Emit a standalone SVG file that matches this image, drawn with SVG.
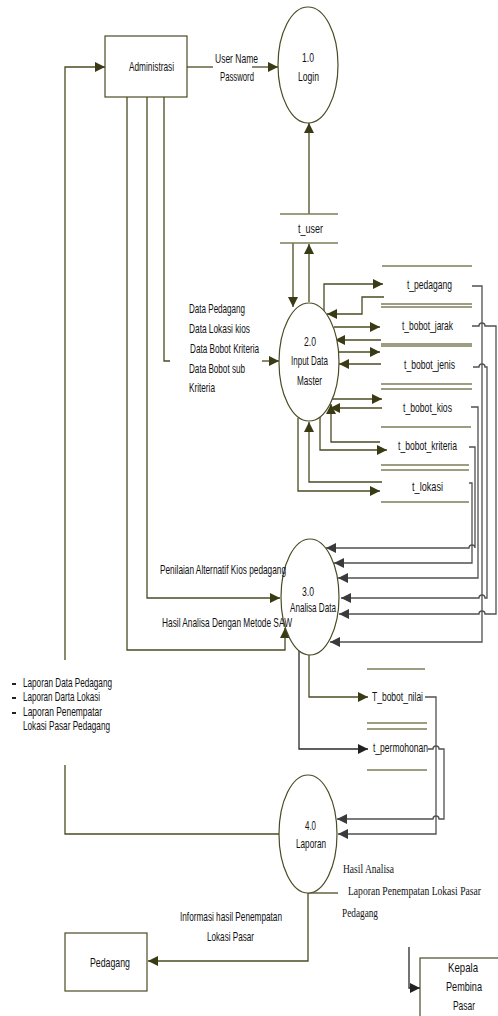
<svg xmlns="http://www.w3.org/2000/svg" width="498" height="1016" viewBox="0 0 498 1016">
<style>
text{font-family:"Liberation Sans Narrow","Liberation Sans",Arial,sans-serif;font-size:13px;fill:#111}
text.s{font-family:"Liberation Serif","Times New Roman",serif;font-size:12px}
.box{fill:#fff;stroke:#4b4b23;stroke-width:1.2}
.proc{fill:#fff;stroke:#4b4b23;stroke-width:1.2}
.st{stroke:#7d7d5a;stroke-width:1.5;fill:none}
.o{fill:none;stroke:#4b4b23;stroke-width:1.3}
.g{fill:none;stroke:#505050;stroke-width:1.3}
.k{fill:none;stroke:#2a2a2a;stroke-width:1.3}
</style>
<defs>
<marker id="ao" markerWidth="10" markerHeight="10" refX="10" refY="5" orient="auto" markerUnits="userSpaceOnUse"><path d="M0,0 L10,5 L0,10 z" fill="#3a3a14"/></marker>
<marker id="ag" markerWidth="10" markerHeight="10" refX="10" refY="5" orient="auto" markerUnits="userSpaceOnUse"><path d="M0,0 L10,5 L0,10 z" fill="#3a3a3a"/></marker>
<marker id="ak" markerWidth="10" markerHeight="10" refX="10" refY="5" orient="auto" markerUnits="userSpaceOnUse"><path d="M0,0 L10,5 L0,10 z" fill="#222"/></marker>
</defs>
<rect width="498" height="1016" fill="#fff"/>

<g id="connectors">
<path class="o" d="M187,67 H213"/>
<path class="o" d="M252,67 H278" marker-end="url(#ao)"/>
<path class="o" d="M309,214 V123" marker-end="url(#ao)"/>
<path class="o" d="M293,243 V307" marker-end="url(#ao)"/>
<path class="o" d="M309,302 V244" marker-end="url(#ao)"/>
<path class="o" d="M164,97 V361 H170"/>
<path class="o" d="M262,361 H279" marker-end="url(#ao)"/>
<path class="o" d="M147,97 V598 H280" marker-end="url(#ao)"/>
<path class="o" d="M127,97 V650 H285 V628" marker-end="url(#ao)"/>
<path class="o" d="M65,660 V67 H105" marker-end="url(#ao)"/>
<path class="o" d="M65,765 V834 H280"/>
<path class="o" d="M324,311 V284 H383" marker-end="url(#ao)"/>
<path class="o" d="M384,297 H362 V314 H327" marker-end="url(#ao)"/>
<path class="o" d="M334,327 H380" marker-end="url(#ao)"/>
<path class="o" d="M381,340 H335" marker-end="url(#ao)"/>
<path class="o" d="M338,352 H380" marker-end="url(#ao)"/>
<path class="o" d="M381,364 H339" marker-end="url(#ao)"/>
<path class="o" d="M332,399 H382" marker-end="url(#ao)"/>
<path class="o" d="M382,408 H330" marker-end="url(#ao)"/>
<path class="o" d="M380,442 H331 V404" marker-end="url(#ao)"/>
<path class="o" d="M320,417 V450 H387" marker-end="url(#ao)"/>
<path class="o" d="M382,482 H309 V422" marker-end="url(#ao)"/>
<path class="o" d="M298,418 V491 H380" marker-end="url(#ao)"/>
<path class="g" d="M472,286 H482 V642 H330" marker-end="url(#ag)"/>
<path class="g" d="M472,326 H479 a3,3 0 0 1 6,0 H496 V614 H485 a3,3 0 0 0 -6,0 H339" marker-end="url(#ag)"/>
<path class="g" d="M473,367 H479 a3,3 0 0 1 6,0 H487 V598 H485 a3,3 0 0 0 -6,0 H341" marker-end="url(#ag)"/>
<path class="g" d="M471,407 H478 V578 H338" marker-end="url(#ag)"/>
<path class="g" d="M469,447 H475 V548 H475 a3,3 0 0 0 -6,0 H326" marker-end="url(#ag)"/>
<path class="g" d="M469,483 H472 V563 H334" marker-end="url(#ag)"/>
<path class="o" d="M309,655 V697 H368" marker-end="url(#ao)"/>
<path class="k" d="M299,651 V749 H368" marker-end="url(#ak)"/>
<path class="g" d="M425,697 H436 V834 H338" marker-end="url(#ag)"/>
<path class="g" d="M428,749 H433 a3,3 0 0 1 6,0 H444 V819 H439 a3,3 0 0 0 -6,0 H337" marker-end="url(#ag)"/>
<path class="o" d="M308,893 H338"/>
<path class="o" d="M308,893 V961 H148" marker-end="url(#ao)"/>
<path class="k" d="M409,947 V988 H420" marker-end="url(#ak)"/>
</g>

<g id="administrasi">
<rect class="box" x="105" y="36" width="82" height="61"/>
<text x="129" y="71" textLength="45" lengthAdjust="spacingAndGlyphs">Administrasi</text>
</g>

<g id="label-login">
<text x="215" y="63" textLength="43" lengthAdjust="spacingAndGlyphs">User Name</text>
<text x="220" y="81" textLength="34" lengthAdjust="spacingAndGlyphs">Password</text>
</g>

<g id="login">
<ellipse class="proc" cx="308" cy="65" rx="30" ry="58"/>
<text x="302" y="62" textLength="12" lengthAdjust="spacingAndGlyphs">1.0</text>
<text x="298" y="81" textLength="21" lengthAdjust="spacingAndGlyphs">Login</text>
</g>

<g id="t_user">
<path class="st" d="M280,214 H338 M280,243 H338"/>
<text x="298" y="233" textLength="25" lengthAdjust="spacingAndGlyphs">t_user</text>
</g>

<g id="input-data-master">
<ellipse class="proc" cx="309" cy="362" rx="30" ry="59"/>
<text x="304" y="346" textLength="12" lengthAdjust="spacingAndGlyphs">2.0</text>
<text x="291" y="365" textLength="37" lengthAdjust="spacingAndGlyphs">Input Data</text>
<text x="297" y="385" textLength="25" lengthAdjust="spacingAndGlyphs">Master</text>
</g>

<g id="label-data">
<text x="189" y="313" textLength="56" lengthAdjust="spacingAndGlyphs">Data Pedagang</text>
<text x="189" y="333" textLength="61" lengthAdjust="spacingAndGlyphs">Data Lokasi kios</text>
<text x="190" y="353" textLength="69" lengthAdjust="spacingAndGlyphs">Data Bobot Kriteria</text>
<text x="189" y="373" textLength="56" lengthAdjust="spacingAndGlyphs">Data Bobot sub</text>
<text x="189" y="392" textLength="26" lengthAdjust="spacingAndGlyphs">Kriteria</text>
</g>

<g id="stores-master">
<path class="st" d="M382,266 H472 M381,304 H472 M381,307 H472 M381,344 H472 M381,346 H472 M381,384 H472 M381,389 H472 M381,427 H471 M381,465 H469 M381,470 H469 M381,502 H469"/>
<text x="407" y="289" textLength="45" lengthAdjust="spacingAndGlyphs">t_pedagang</text>
<text x="402" y="330" textLength="51" lengthAdjust="spacingAndGlyphs">t_bobot_jarak</text>
<text x="404" y="369" textLength="51" lengthAdjust="spacingAndGlyphs">t_bobot_jenis</text>
<text x="403" y="412" textLength="49" lengthAdjust="spacingAndGlyphs">t_bobot_kios</text>
<text x="398" y="450" textLength="59" lengthAdjust="spacingAndGlyphs">t_bobot_kriteria</text>
<text x="412" y="491" textLength="31" lengthAdjust="spacingAndGlyphs">t_lokasi</text>
</g>

<g id="analisa-data">
<ellipse class="proc" cx="310" cy="597" rx="29" ry="58"/>
<text x="302" y="596" textLength="12" lengthAdjust="spacingAndGlyphs">3.0</text>
<text x="290" y="612" textLength="46" lengthAdjust="spacingAndGlyphs">Analisa Data</text>
</g>

<g id="label-analisa">
<text x="160" y="574" textLength="126" lengthAdjust="spacingAndGlyphs">Penilaian Alternatif Kios pedagang</text>
<text x="162" y="627" textLength="130" lengthAdjust="spacingAndGlyphs">Hasil Analisa Dengan Metode SAW</text>
</g>

<g id="label-laporan-list">
<rect x="12" y="683" width="4" height="2" fill="#222"/>
<rect x="12" y="697" width="4" height="2" fill="#222"/>
<rect x="12" y="712" width="4" height="2" fill="#222"/>
<text x="23" y="687" textLength="89" lengthAdjust="spacingAndGlyphs">Laporan Data Pedagang</text>
<text x="23" y="701" textLength="77" lengthAdjust="spacingAndGlyphs">Laporan Darta Lokasi</text>
<text x="23" y="716" textLength="79" lengthAdjust="spacingAndGlyphs">Laporan Penempatar</text>
<text x="23" y="730" textLength="87" lengthAdjust="spacingAndGlyphs">Lokasi Pasar Pedagang</text>
</g>

<g id="stores-hasil">
<path class="st" d="M367,669 H425 M367,723 H427 M367,729 H427 M367,770 H427"/>
<text x="372" y="701" textLength="51" lengthAdjust="spacingAndGlyphs">T_bobot_nilai</text>
<text x="373" y="752" textLength="55" lengthAdjust="spacingAndGlyphs">t_permohonan</text>
</g>

<g id="laporan">
<ellipse class="proc" cx="308" cy="834" rx="29" ry="59"/>
<text x="305" y="830" textLength="11" lengthAdjust="spacingAndGlyphs">4.0</text>
<text x="296" y="848" textLength="30" lengthAdjust="spacingAndGlyphs">Laporan</text>
</g>

<g id="label-laporan">
<text class="s" x="343" y="873" textLength="51" lengthAdjust="spacingAndGlyphs">Hasil Analisa</text>
<text class="s" transform="translate(348,895) scale(0.8,1)" x="0" y="0">Laporan Penempatan Lokasi Pasar</text>
<text class="s" x="342" y="917" textLength="36" lengthAdjust="spacingAndGlyphs">Pedagang</text>
<text x="180" y="921" textLength="102" lengthAdjust="spacingAndGlyphs">Informasi hasil Penempatan</text>
<text x="207" y="941" textLength="47" lengthAdjust="spacingAndGlyphs">Lokasi Pasar</text>
</g>

<g id="pedagang">
<rect class="box" x="65" y="933" width="82" height="58"/>
<text x="90" y="967" textLength="40" lengthAdjust="spacingAndGlyphs">Pedagang</text>
</g>

<g id="kepala-pembina-pasar">
<rect class="box" x="420" y="958" width="90" height="70"/>
<text x="448" y="972" textLength="30" lengthAdjust="spacingAndGlyphs">Kepala</text>
<text x="446" y="991" textLength="36" lengthAdjust="spacingAndGlyphs">Pembina</text>
<text x="453" y="1010" textLength="22" lengthAdjust="spacingAndGlyphs">Pasar</text>
</g>
</svg>
